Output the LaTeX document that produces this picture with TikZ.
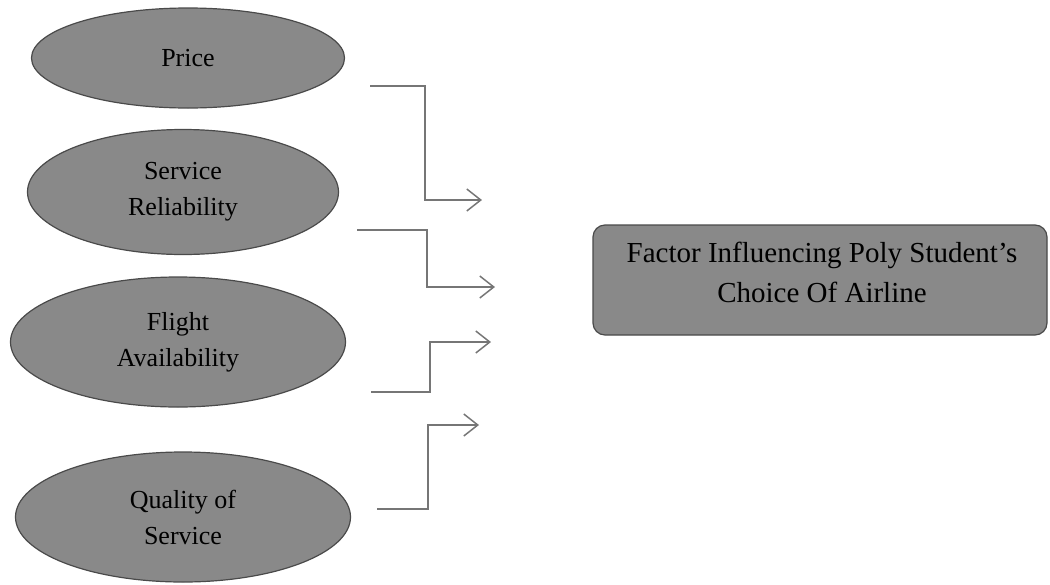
\documentclass[tikz,border=0pt]{standalone}
\usepackage{fontspec}
\setmainfont{Liberation Serif}
\usetikzlibrary{shapes.geometric,arrows.meta}
\definecolor{shade}{HTML}{898989}
\definecolor{rim}{HTML}{4A4A4A}
\definecolor{wire}{HTML}{767676}
\begin{document}
\begin{tikzpicture}[x=1pt,y=-1pt,
  factor/.style={ellipse, fill=shade, draw=rim, line width=1.2pt, align=center,
    font=\fontsize{26}{36}\selectfont, inner sep=0pt},
  outcome/.style={rectangle, rounded corners=12pt, fill=shade, draw=rim, line width=1.2pt,
    align=center, inner sep=0pt},
  link/.style={wire, line width=1.5pt, -{Straight Barb[length=14pt,width=22pt]}}]
\useasboundingbox (0,0) rectangle (1050,584);

% the four factors
\node[factor, minimum width=313pt, minimum height=100pt] (price) at (188,58) {Price};
\node[factor, minimum width=311pt, minimum height=125pt] (reliab) at (183,192) {Service\\Reliability};
\node[factor, minimum width=335pt, minimum height=130pt] (flight) at (178,342) {Flight\\Availability};
\node[factor, minimum width=335pt, minimum height=130pt] (quality) at (183,517) {Quality of\\Service};

% the outcome
\node[outcome, minimum width=454pt, minimum height=110pt] (choice) at (820,280) {};
\node[font=\fontsize{29}{40}\selectfont, align=center] (choicetext) at (822,272)
  {Factor Influencing Poly Student's\\Choice Of Airline};

% elbow connectors
\coordinate (s1) at (370,86);  \coordinate (t1) at (482,200);
\coordinate (s2) at (357,230); \coordinate (t2) at (495,287);
\coordinate (s3) at (371,392); \coordinate (t3) at (491,342);
\coordinate (s4) at (377,509); \coordinate (t4) at (479,425);

\draw[link] (s1) -- ++(55,0) |- (t1);
\draw[link] (s2) -- ++(70,0) |- (t2);
\draw[link] (s3) -- ++(59,0) |- (t3);
\draw[link] (s4) -- ++(51,0) |- (t4);
\end{tikzpicture}
\end{document}
